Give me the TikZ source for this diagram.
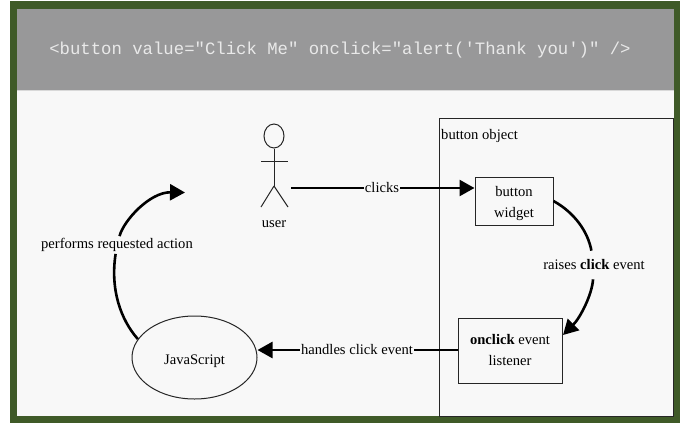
\documentclass[tikz,border=0pt]{standalone}
\usepackage{fontspec}
\setmainfont{Liberation Serif}
\setmonofont{Liberation Mono}
\usetikzlibrary{arrows.meta,shapes.geometric}
\definecolor{framegreen}{HTML}{3F5A28}
\definecolor{bandgray}{HTML}{989899}
\definecolor{paper}{HTML}{F8F8F8}
\definecolor{codetext}{HTML}{E9E9E9}
\tikzset{
  thinline/.style={draw=black!85,line width=1pt},
  box/.style={thinline,fill=paper,align=center,inner sep=0pt,font=\fontsize{14.6}{21}\selectfont},
  caption/.style={fill=paper,inner xsep=1pt,inner ysep=2pt,font=\fontsize{14.6}{17}\selectfont},
  flow/.style={line width=2.6pt,draw=black},
  bigtip/.style={-{Triangle[length=15pt,width=16pt]}},
}
\begin{document}
\begin{tikzpicture}[x=1pt,y=-1pt]
  \useasboundingbox (0,0) rectangle (682,423);
  %
  \fill[framegreen] (10,1) rectangle (680,423);
  \fill[paper] (17,9) rectangle (674,416);
  \fill[bandgray] (17,9) rectangle (674,90);
  \draw[white!85!black,line width=1pt] (17,90.5) -- (674,90.5);
  \node[text=codetext,font=\ttfamily\fontsize{17.3}{20}\selectfont] (code) at (340,50)
    {<button value="Click Me" onclick="alert('Thank you')" />};
  %
  \node[box,minimum width=234pt,minimum height=298pt] (buttonobject) at (556,267) {};
  \node[caption,anchor=west,fill=none] (objectname) at (440,135.5) {button object};
  \node[box,minimum width=78pt,minimum height=48pt] (widget) at (514,201) {\rule{0pt}{15pt}button\\widget};
  \node[box,minimum width=104pt,minimum height=65pt] (listener) at (510,350.5) {\textbf{onclick} event\\listener};
  \node[box,ellipse,minimum width=125pt,minimum height=83pt] (js) at (194.5,357.5) {\rule{0pt}{17pt}JavaScript};
  %
  \node[thinline,ellipse,minimum width=20pt,minimum height=24pt,inner sep=0pt] (head) at (274,136) {};
  \coordinate (hip) at (274,186);
  \coordinate (handleft) at (261,161);
  \coordinate (handright) at (288,161);
  \draw[thinline] (head) -- (hip);
  \draw[thinline] (handleft) -- (handright);
  \foreach \footx in {261,288} {
    \draw[thinline] (hip) -- (\footx,207);
  }
  \node[caption,fill=none] (user) at (274,224.5) {user};
  %
  \coordinate (userstart) at (291,188);
  \coordinate (actionend) at (185,192.5);
  \node[caption] (clicks) at (382,188) {clicks};
  \node[caption,inner ysep=5pt] (handles) at (357,350) {handles click event};
  \node[caption,inner ysep=9pt] (raises) at (594,265) {raises \textbf{click} event};
  \node[caption] (performs) at (117,245) {performs requested action};
  %
  \draw[flow] (userstart) -- (clicks);
  \draw[flow,bigtip] (clicks) -- (widget.west |- clicks);
  \draw[flow] (listener.west |- handles) -- (handles);
  \draw[flow,bigtip] (handles) -- (js.east |- handles);
  \draw[flow] (widget.east |- 0,201) .. controls (575,213) and (588,232) .. (raises);
  \draw[flow,bigtip] (raises) .. controls (592,295) and (580,318) .. (563,335);
  \draw[flow] (js.162) .. controls (121,320) and (110,290) .. (performs);
  \draw[flow,bigtip] (performs) .. controls (124,220) and (150,192) .. (actionend);
\end{tikzpicture}
\end{document}
